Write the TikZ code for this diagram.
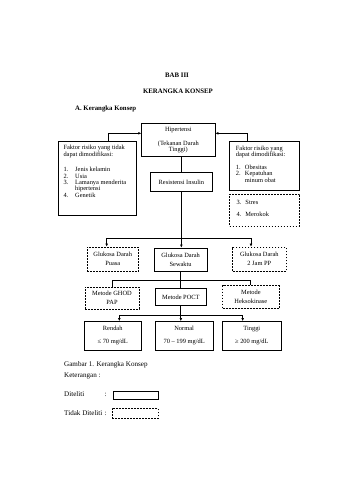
\documentclass[tikz,border=0pt]{standalone}
\usepackage{fontspec}
\setmainfont{Liberation Serif}
\usetikzlibrary{arrows.meta}
\begin{document}
\begin{tikzpicture}[x=1pt,y=-1pt,
  dg/.style={font=\fontsize{6.4}{6.4}\selectfont},
  hd/.style={font=\fontsize{6.8}{7}\selectfont\bfseries},
  captxt/.style={font=\fontsize{7.1}{7.5}\selectfont},
  sbox/.style={draw, line width=0.85pt, inner sep=0pt, align=center, dg},
  dbox/.style={draw, line width=0.7pt, dash pattern=on 1.8pt off 1.2pt, inner sep=0pt, align=center, dg},
  txt/.style={inner sep=0pt, align=left, dg},
  conn/.style={line width=0.9pt},
  arr/.style={conn, -{Latex[length=3pt,width=2.8pt]}}
]
\useasboundingbox (0,0) rectangle (339,480);
\fill[white] (0,0) rectangle (339,480);

% headings
\node[hd, inner sep=0pt, anchor=mid] (h1) at (177,75) {BAB III};
\node[hd, inner sep=0pt, anchor=mid] (h2) at (178,91.7) {KERANGKA KONSEP};
\node[hd, inner sep=0pt, anchor=mid west] (h3) at (75,108.3) {\makebox[8.3pt][l]{A.}Kerangka Konsep};

% top boxes
\node[sbox, minimum width=73.3pt, minimum height=33.2pt] (hip) at (178.35,139.9)
  {Hipertensi\\[7.5pt](Tekanan Darah\\Tinggi)};
\node[sbox, minimum width=78pt, minimum height=73.7pt] (lbox) at (97,178.15) {};
\node[txt, anchor=north west] (ltxt) at (63.3,145.1)
  {Faktor risiko yang tidak\\
   dapat dimodifikasi:\\[9.2pt]
   \makebox[11.7pt][l]{1.}Jenis kelamin\\
   \makebox[11.7pt][l]{2.}Usia\\
   \makebox[11.7pt][l]{3.}Lamanya menderita\\
   \makebox[11.7pt][l]{}hipertensi\\
   \makebox[11.7pt][l]{4.}Genetik};
\node[sbox, minimum width=70pt, minimum height=49.5pt] (rbox) at (264.5,165.75) {};
\node[txt, anchor=north west] (rtxt) at (235.7,145.4)
  {Faktor risiko yang\\
   dapat dimodifikasi:\\[6.6pt]
   \makebox[9pt][l]{1.}Obesitas\\
   \makebox[9pt][l]{2.}Kepatuhan\\
   \makebox[9pt][l]{}minum obat};
\node[dbox, minimum width=70pt, minimum height=32pt] (rdash) at (264.5,210) {};
\node[txt, anchor=north west] (rdtxt) at (236.3,200.4)
  {\makebox[9pt][l]{3.}Stres\\[5.3pt]
   \makebox[9pt][l]{4.}Merokok};
\node[sbox, minimum width=62.7pt, minimum height=19pt] (res) at (181.35,182.2) {Resistensi Insulin};

% glukosa row
\node[dbox, minimum width=51.5pt, minimum height=24pt] (g1) at (112.75,259) {Glukosa Darah\\[2.6pt]Puasa};
\node[sbox, minimum width=52.7pt, minimum height=23pt] (g2) at (180.65,259.5) {Glukosa Darah\\[2.6pt]Sewaktu};
\node[dbox, minimum width=53.3pt, minimum height=24pt] (g3) at (259.35,259) {Glukosa Darah\\[2.6pt]2 Jam PP};

% metode row
\node[dbox, minimum width=54pt, minimum height=22pt] (m1) at (112,298) {Metode GHOD\\[2.6pt]PAP};
\node[sbox, minimum width=51.7pt, minimum height=17.7pt] (m2) at (180.85,296.85) {Metode POCT};
\node[dbox, minimum width=56.3pt, minimum height=22.6pt] (m3) at (250.85,297) {Metode\\[2.6pt]Heksokinase};

% result row
\node[sbox, minimum width=56.5pt, minimum height=28.5pt] (r1) at (112.75,335.75) {Rendah\\[7pt]≤ 70 mg/dL};
\node[sbox, minimum width=58.3pt, minimum height=28.5pt] (r2) at (184.15,335.75) {Normal\\[7pt]70 – 199 mg/dL};
\node[sbox, minimum width=58.3pt, minimum height=28.5pt] (r3) at (251.85,335.75) {Tinggi\\[7pt]≥ 200 mg/dL};

% connectors
\draw[arr] ([xshift=11.3pt]lbox.north) |- ([yshift=6.6pt]hip.west);
\draw[arr] ([xshift=-17pt]rbox.north) |- ([yshift=6.6pt]hip.east);
\draw[conn] (res.north |- hip.south) -- (res.north);
\coordinate (b1) at (181.35,238);
\draw[arr] (res.south) -- (res.south |- g2.north);
\draw[arr] (b1) -| ([xshift=-6.05pt]g1.north);
\draw[arr] (b1) -| ([xshift=-8.35pt]g3.north);
\coordinate (b2) at (180.65,280);
\draw[conn] (g2.south) -- (g2.south |- m2.north);
\draw[conn] (b2) -| ([xshift=0.3pt]m1.north);
\draw[conn] (b2) -| ([xshift=-0.85pt]m3.north);
\coordinate (b3) at (180.85,315.5);
\draw[arr] (m2.south) -- (m2.south |- r2.north);
\draw[arr] (b3) -| ([xshift=6.55pt]r1.north);
\draw[arr] (b3) -| ([xshift=-9.15pt]r3.north);

% caption and legend
\node[captxt, inner sep=0pt, anchor=mid west] (c1) at (64,364.6) {Gambar 1. Kerangka Konsep};
\node[captxt, inner sep=0pt, anchor=mid west] (c2) at (64,374.8) {Keterangan :};
\node[captxt, inner sep=0pt, anchor=mid west] (c3) at (64,394) {Diteliti};
\node[captxt, inner sep=0pt, anchor=mid west] (c3c) at (104.5,394) {:};
\node[sbox, minimum width=45pt, minimum height=8.5pt] (leg1) at (135.5,395.2) {};
\node[captxt, inner sep=0pt, anchor=mid west] (c4) at (64,412.8) {Tidak Diteliti};
\node[captxt, inner sep=0pt, anchor=mid west] (c4c) at (104.5,412.8) {:};
\node[dbox, minimum width=46pt, minimum height=10pt] (leg2) at (135,413.3) {};
\end{tikzpicture}
\end{document}
